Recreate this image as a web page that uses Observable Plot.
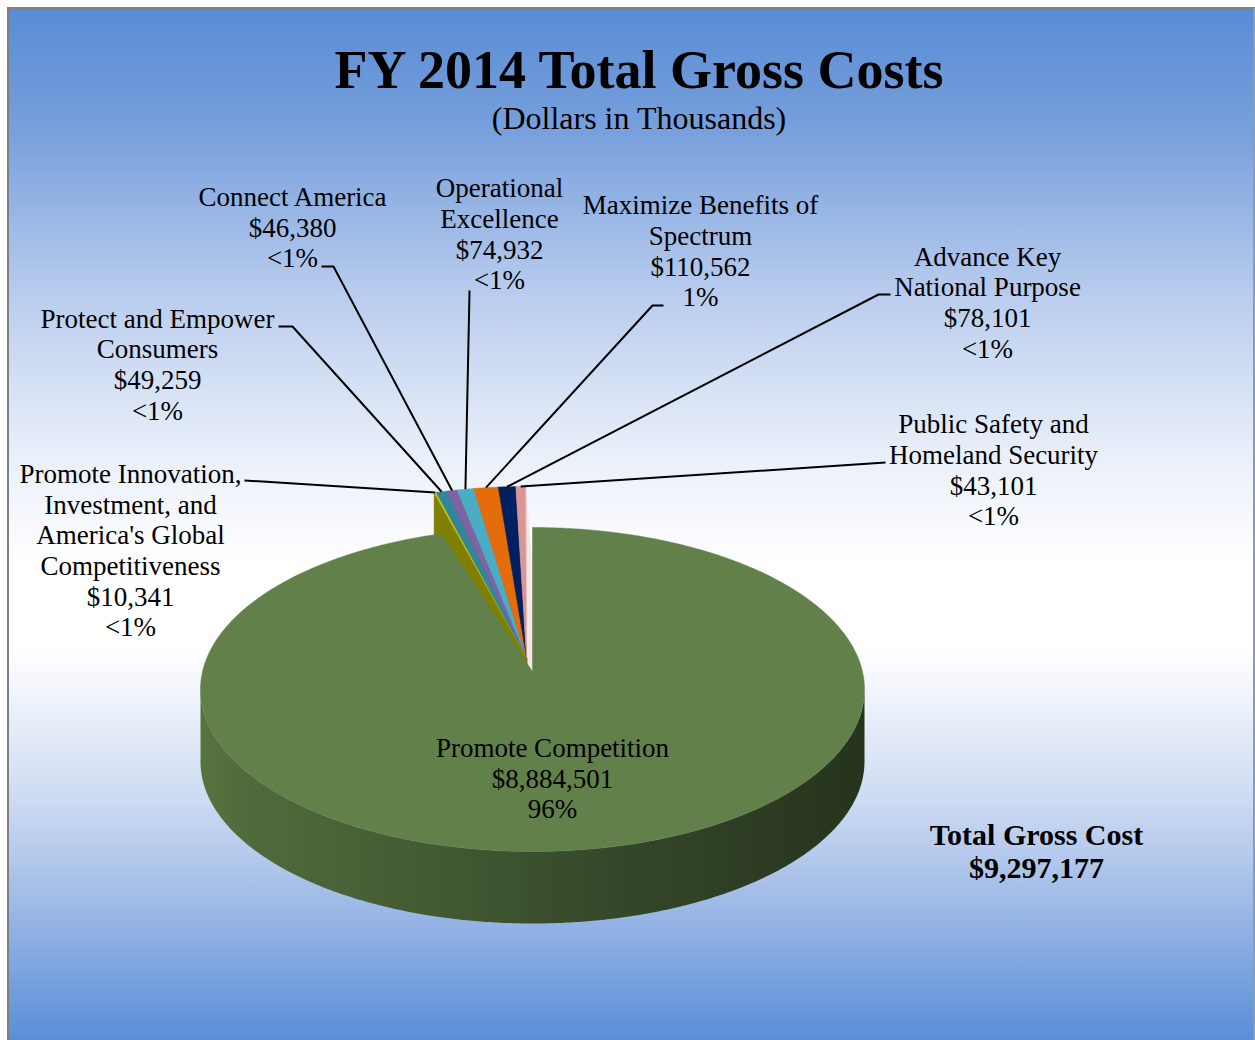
<!DOCTYPE html>
<html>
<head>
<meta charset="utf-8">
<script src="https://cdn.jsdelivr.net/npm/d3@7"></script>
<script src="https://cdn.jsdelivr.net/npm/@observablehq/plot@0.6"></script>
<style>
html, body { margin: 0; padding: 0; background: #ffffff; overflow: hidden; }
#frame {
  position: absolute; left: 7px; top: 7px; width: 1244px; height: 1031px;
  border-top: 2px solid #7f7f7f; border-left: 2px solid #7f7f7f; border-right: 2px solid #8c9bb5;
  background: linear-gradient(to bottom, #598cd5 0%, #78a0dc 12%, #bacdee 28%, #e9eff9 43%, #ffffff 54%, #ffffff 62%, #ccdaf2 77%, #9db9e6 87%, #598ed7 100%);
  font-family: "Liberation Serif", "Times New Roman", serif;
}
#header { position: relative; height: 141px; }
#title { position: absolute; left: 8px; right: -8px; top: 31px; line-height: 60px; text-align: center; font-weight: bold; font-size: 54px; color: #000; }
#subtitle { position: absolute; left: 8px; right: -8px; top: 92px; line-height: 34px; text-align: center; font-size: 32px; color: #000; }
#chart svg { display: block; }
</style>
</head>
<body>
<div id="frame">
  <div id="header">
    <div id="title">FY 2014 Total Gross Costs</div>
    <div id="subtitle">(Dollars in Thousands)</div>
  </div>
  <div id="chart"></div>
</div>
<script>
// ---- data ----
const categories = [
  "Promote Competition",
  "Promote Innovation,\nInvestment, and\nAmerica's Global\nCompetitiveness",
  "Protect and Empower\nConsumers",
  "Connect America",
  "Operational\nExcellence",
  "Maximize Benefits of\nSpectrum",
  "Advance Key\nNational Purpose",
  "Public Safety and\nHomeland Security"
];
const values = [8884501, 10341, 49259, 46380, 74932, 110562, 78101, 43101];
const totalLabel = "Total Gross Cost";

// ---- styles ----
const topColors  = ["#62804a", "#c8c800", "#31859c", "#8064a2", "#4bacc6", "#e46c0a", "#002060", "#d99694"];
const wallColors = ["#3f5630", "#7f7f00", "#215968", "#5f4a7a", "#31859c", "#984807", "#001540", "#f3e6e6"];

// ---- layout (page pixels) ----
const cx = 532, cy = 690, rx = 332, ry = 162, depth = 72;
const apex = [532, 672];
const explodeRim = [-7, -41], explodeApex = [-6, -14];
const labelPos = [[552, 778.5], [130, 550.5], [157, 364.5], [292, 227.5], [499, 234], [700, 251], [987, 302.5], [993, 470]];
const leaderStart = [null, [[244, 481], [262, 482]], [[278, 327], [292, 327]], [[321, 267], [333, 267]],
  [[469, 291], [469, 292]], [[663, 306], [652, 306]], [[890, 295], [878, 295]], [[885, 463], [870, 464]]];
const totalPos = [1036, 851.5];

// ---- geometry from data ----
const total = d3.sum(values);
const arcs = d3.pie().sort(null).value(d => d)(values);
const rim = a => [cx + rx * Math.sin(a), cy - ry * Math.cos(a)];
const add = (p, o) => [p[0] + o[0], p[1] + o[1]];
function arcPts(a0, a1, off = [0, 0]) {
  const n = Math.max(2, Math.ceil(Math.abs(a1 - a0) / (Math.PI / 360)));
  return d3.range(n + 1).map(i => add(rim(a0 + (a1 - a0) * i / n), off));
}
const toRows = (id, pts, fill) => pts.map(([x, y]) => ({id, x, y, fill}));

const smallWalls = [], smallTops = [];
const apexS = add(apex, explodeApex);
// walls drawn from the last slice back to the first, so the leftmost (front-facing) wall is on top
for (let i = arcs.length - 1; i >= 1; i--) {
  const a = arcs[i];
  const s = add(rim(a.startAngle), explodeRim);
  const e = add(rim(a.endAngle), explodeRim);
  if (i === arcs.length - 1) {
    smallWalls.push(...toRows("we" + i, [apexS, e, add(e, [6, depth]), add(apexS, [6, depth])], wallColors[i]));
  }
  smallWalls.push(...toRows("w" + i, [apexS, s, add(s, [0, depth]), add(apexS, [0, depth])], wallColors[i]));
}
arcs.forEach((a, i) => {
  if (i === 0) return;
  smallTops.push(...toRows("t" + i, [apexS, ...arcPts(a.startAngle, a.endAngle, explodeRim)], topColors[i]));
});
const frontTop = arcPts(Math.PI / 2, 3 * Math.PI / 2);
const greenWall = toRows("gw", [...frontTop, ...frontTop.map(p => add(p, [0, depth])).reverse()], "url(#wallGrad)");
const greenTop = toRows("gt", [apex, ...arcPts(arcs[0].startAngle, arcs[0].endAngle)], topColors[0]);

const leaders = [];
arcs.forEach((a, i) => {
  if (!leaderStart[i]) return;
  const end = add(rim((a.startAngle + a.endAngle) / 2), explodeRim);
  leaders.push(...toRows("l" + i, [...leaderStart[i], end], "#000"));
});

const pctText = v => (v / total < 0.01 ? "<1%" : Math.round(v / total * 100) + "%");
const labels = categories.map((c, i) => ({
  x: labelPos[i][0], y: labelPos[i][1],
  text: `${c}\n$${d3.format(",")(values[i])}\n${pctText(values[i])}`
}));

const chart = Plot.plot({
  width: 1244, height: 889, margin: 0,
  x: {domain: [9, 1253], range: [0, 1244], axis: null},
  y: {domain: [151, 1040], range: [0, 889], axis: null},
  color: {type: "identity"},
  style: {background: "transparent", overflow: "visible"},
  marks: [
    Plot.line(smallWalls, {x: "x", y: "y", z: "id", fill: "fill", stroke: "fill", strokeWidth: 0.5, curve: "linear-closed"}),
    Plot.line(smallTops, {x: "x", y: "y", z: "id", fill: "fill", stroke: "fill", strokeWidth: 0.5, curve: "linear-closed"}),
    Plot.line(greenWall, {x: "x", y: "y", z: "id", fill: "url(#wallGrad)", stroke: "none", curve: "linear-closed"}),
    Plot.line(greenTop, {x: "x", y: "y", z: "id", fill: "fill", stroke: "fill", strokeWidth: 0.5, curve: "linear-closed"}),
    Plot.line(leaders, {x: "x", y: "y", z: "id", stroke: "#000", strokeWidth: 2, strokeLinecap: "butt", curve: "linear"}),
    Plot.text(labels, {x: "x", y: "y", text: "text", fontFamily: "Liberation Serif", fontSize: 27, lineHeight: 1.135, lineAnchor: "middle", textAnchor: "middle", fill: "#000"}),
    Plot.text([{x: totalPos[0], y: totalPos[1], text: `${totalLabel}\n$${d3.format(",")(total)}`}],
      {x: "x", y: "y", text: "text", fontFamily: "Liberation Serif", fontSize: 30, fontWeight: "bold", lineHeight: 1.1, lineAnchor: "middle", textAnchor: "middle", fill: "#000"})
  ]
});

const defs = d3.select(chart).insert("defs", ":first-child");
const grad = defs.append("linearGradient").attr("id", "wallGrad").attr("x1", 0).attr("x2", 1).attr("y1", 0).attr("y2", 0);
[[0, "#57743f"], [0.08, "#4f6a3a"], [0.35, "#435a33"], [0.6, "#36492a"], [0.85, "#2c3b21"], [1, "#27341d"]]
  .forEach(([o, c]) => grad.append("stop").attr("offset", o).attr("stop-color", c));

document.getElementById("chart").appendChild(chart);
</script>
</body>
</html>
